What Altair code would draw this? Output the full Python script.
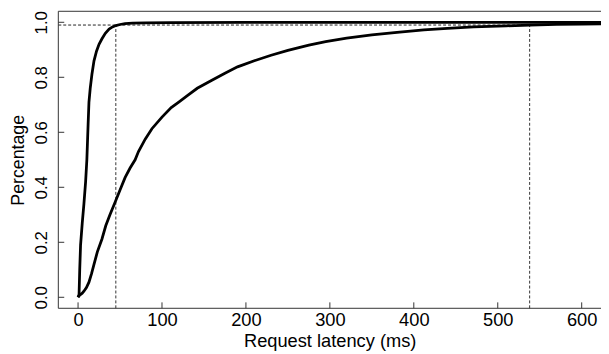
import altair as alt
import pandas as pd

# ---- data ----
fast_x = [0, 1.2, 2, 3, 5, 7, 9, 10.5, 12, 13, 14.5, 16.5, 19, 22, 25, 28.5, 32.5, 37, 41, 45, 50, 56, 65, 80, 110, 200, 623]
fast_y = [0, 0.01, 0.1, 0.19, 0.27, 0.34, 0.42, 0.5, 0.63, 0.71, 0.76, 0.81, 0.86, 0.895, 0.92, 0.94, 0.96, 0.975, 0.983, 0.988, 0.992, 0.995, 0.997, 0.998, 0.999, 0.9995, 1.0]

slow_x = [0, 2, 5, 7, 10, 13, 16, 19, 23, 28.5, 33, 38, 44, 50, 56, 62, 68, 72, 80, 88, 100, 111, 120, 131, 142, 160, 175, 190, 210, 230, 250, 275, 295, 320, 350, 380, 412, 440, 471, 510, 538, 570, 600, 623]
slow_y = [0, 0.008, 0.015, 0.022, 0.035, 0.055, 0.085, 0.12, 0.165, 0.212, 0.26, 0.3, 0.345, 0.39, 0.435, 0.47, 0.5, 0.53, 0.575, 0.613, 0.655, 0.69, 0.71, 0.735, 0.76, 0.79, 0.815, 0.838, 0.86, 0.88, 0.898, 0.917, 0.93, 0.942, 0.954, 0.963, 0.972, 0.978, 0.983, 0.987, 0.99, 0.992, 0.993, 0.994]

pct_level = [0.99]
pct_x = [45, 538]

x_ticks = [0, 100, 200, 300, 400, 500, 600]
y_ticks = [0.0, 0.2, 0.4, 0.6, 0.8, 1.0]

x_domain = [-23.5, 623]
y_domain = [-0.04, 1.04]

W, H = 550, 301
FONT = "Liberation Sans"
FSX = 18.5
FSY = 17

curves = pd.concat([
    pd.DataFrame({"series": "fast", "x": fast_x, "y": fast_y, "i": range(len(fast_x))}),
    pd.DataFrame({"series": "slow", "x": slow_x, "y": slow_y, "i": range(len(slow_x))}),
])

xs = alt.Scale(domain=x_domain, nice=False, zero=False)
ys = alt.Scale(domain=y_domain, nice=False, zero=False)

x_axis = alt.Axis(values=x_ticks, ticks=False, tickSize=0, domain=False, grid=False,
                  labelFont=FONT, labelFontSize=FSX, labelColor="black",
                  labelBaseline="alphabetic", labelPadding=17,
                  title="Request latency (ms)", titleFont=FONT, titleFontSize=FSX,
                  titleFontWeight="normal", titleColor="black",
                  titleX=275, titleY=39, titleBaseline="alphabetic", titleAlign="center")
y_axis = alt.Axis(values=y_ticks, ticks=False, tickSize=0, domain=False, grid=False,
                  format=".1f", labelAngle=270, labelAlign="center",
                  labelBaseline="alphabetic", labelPadding=12,
                  labelFont=FONT, labelFontSize=FSY, labelColor="black",
                  title="Percentage", titleFont=FONT, titleFontSize=18,
                  titleFontWeight="normal", titleColor="black", titleAngle=270,
                  titleX=-35.5, titleY=150.5, titleBaseline="alphabetic", titleAlign="center")

lines = alt.Chart(curves).mark_line(color="black", strokeWidth=2.8).encode(
    x=alt.X("x:Q", scale=xs, axis=x_axis),
    y=alt.Y("y:Q", scale=ys, axis=y_axis),
    detail="series:N",
    order="i:Q",
)

dash = [3, 2]
hline = alt.Chart(pd.DataFrame({"y": pct_level, "x": [x_domain[0]], "x2": [max(pct_x)]})).mark_rule(
    color="#222", strokeWidth=1, strokeDash=dash).encode(
    x=alt.X("x:Q", scale=xs), x2=alt.X2("x2:Q"), y=alt.Y("y:Q", scale=ys))

vlines = alt.Chart(pd.DataFrame({"x": pct_x, "y": [y_domain[0]] * len(pct_x),
                                 "y2": pct_level * len(pct_x)})).mark_rule(
    color="#333", strokeWidth=1, strokeDash=dash).encode(
    x=alt.X("x:Q", scale=xs), y=alt.Y("y:Q", scale=ys), y2=alt.Y2("y2:Q"))

xt = alt.Chart(pd.DataFrame({"t": x_ticks})).mark_rule(color="#333", strokeWidth=1).encode(
    x=alt.X("t:Q", scale=xs), y=alt.value(H - 6), y2=alt.value(H))
yt = alt.Chart(pd.DataFrame({"t": y_ticks})).mark_rule(color="#333", strokeWidth=1).encode(
    y=alt.Y("t:Q", scale=ys), x=alt.value(0), x2=alt.value(6))

one = pd.DataFrame({"a": [0]})
box_top = alt.Chart(one).mark_rule(color="#333", strokeWidth=1).encode(
    x=alt.value(0), x2=alt.value(W), y=alt.value(0))
box_bottom = alt.Chart(one).mark_rule(color="#333", strokeWidth=1).encode(
    x=alt.value(0), x2=alt.value(W), y=alt.value(H))
box_left = alt.Chart(one).mark_rule(color="#333", strokeWidth=1).encode(
    x=alt.value(0), y=alt.value(0), y2=alt.value(H))

chart = alt.layer(hline, vlines, lines, xt, yt, box_top, box_bottom, box_left).properties(
    width=W, height=H,
    autosize=alt.AutoSizeParams(type="none"),
    padding={"left": 51, "top": 1, "right": 0, "bottom": 44},
).configure_view(stroke=None)

chart.save("out.html", embed_options={"renderer": "svg", "actions": False})
